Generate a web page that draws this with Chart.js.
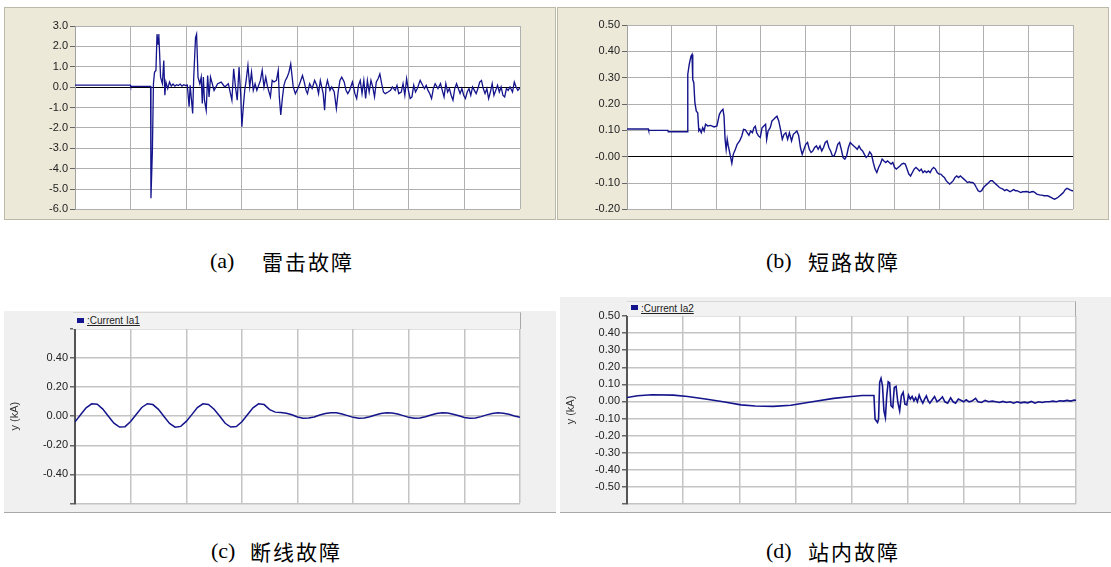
<!DOCTYPE html>
<html>
<head>
<meta charset="utf-8">
<script src="https://cdn.jsdelivr.net/npm/chart.js@4.4.0/dist/chart.umd.min.js"></script>
<style>
body { margin: 0; width: 1111px; height: 567px; background: #fff; position: relative; overflow: hidden; font-family: "Liberation Sans", Arial, sans-serif; }
.panel { position: absolute; box-sizing: border-box; }
.xp { background: #ECE9D8; border: 1px solid #bdb9a8; }
.gr { background: #F0F0F0; border-bottom: 1px solid #a8a8a8; }
canvas { position: absolute; }
.legend { position: absolute; box-sizing: border-box; background: #f2f2f2; border-top: 1px solid #d8d8d8; border-right: 1px solid #a8a8a8; font-size: 10px; color: #222; }
.legend i { position: absolute; left: 4px; width: 7px; height: 5px; background: #14148c; }
.legend u { position: absolute; left: 14px; }
.cap { position: absolute; font-family: "Liberation Serif", serif; font-size: 22px; line-height: 26px; color: #000; }
.zh { position: absolute; font-family: "Noto Sans CJK SC", sans-serif; font-size: 21px; line-height: 26px; letter-spacing: 2px; color: #000; }
</style>
</head>
<body>
<div class="panel xp" style="left:4px;top:7px;width:552px;height:213px"></div>
<div class="panel xp" style="left:557px;top:7px;width:552px;height:213px"></div>
<div class="panel gr" style="left:4px;top:311px;width:552px;height:202px"></div>
<div class="panel gr" style="left:560px;top:297px;width:551px;height:216px"></div>

<canvas id="chartA" width="550" height="210" style="left:5px;top:8px"></canvas>
<canvas id="chartB" width="550" height="210" style="left:558px;top:8px"></canvas>
<canvas id="chartC" width="552" height="200" style="left:4px;top:312px"></canvas>
<canvas id="chartD" width="551" height="216" style="left:560px;top:297px"></canvas>

<div class="legend" style="left:73px;top:312px;width:448px;height:17px"><i style="top:5px"></i><u style="top:2px">:Current Ia1</u></div>
<div class="legend" style="left:627px;top:301px;width:449px;height:15px"><i style="top:3px"></i><u style="top:1px">:Current Ia2</u></div>

<span class="cap" style="left:210px;top:248px">(a)</span><span class="zh" style="left:262px;top:248px">雷击故障</span>
<span class="cap" style="left:766px;top:248px">(b)</span><span class="zh" style="left:808px;top:248px">短路故障</span>
<span class="cap" style="left:211px;top:538px">(c)</span><span class="zh" style="left:250px;top:538px">断线故障</span>
<span class="cap" style="left:766px;top:538px">(d)</span><span class="zh" style="left:808px;top:538px">站内故障</span>

<script>
// (a) lightning fault: sample position across the window and current value
const timeA = [0, 155, 156, 212, 213, 217, 220, 223, 227, 230,
    233, 235, 237, 240, 245, 249, 252, 255, 260, 265,
    270, 275, 280, 285, 290, 295, 300, 305, 310, 315,
    320, 323, 330, 333, 338, 341, 345, 350, 354, 357,
    360, 363, 368, 372, 376, 380, 390, 400, 410, 420,
    430, 440, 445, 450, 455, 460, 465, 468, 472, 476,
    480, 485, 490, 495, 500, 505, 510, 520, 525, 530,
    535, 540, 548, 553, 558, 565, 570, 573, 577, 582,
    586, 590, 595, 600, 605, 608, 612, 618, 625, 630,
    638, 643, 648, 652, 658, 665, 672, 678, 683, 688,
    692, 696, 700, 704, 708, 715, 720, 727, 733, 738,
    743, 748, 755, 760, 765, 770, 778, 785, 790, 795,
    800, 805, 810, 815, 820, 825, 830, 835, 840, 845,
    850, 855, 860, 865, 870, 878, 885, 890, 898, 903,
    908, 915, 920, 925, 930, 935, 940, 945, 950, 955,
    960, 968, 975, 980, 985, 990, 995, 1000, 1005, 1010,
    1018, 1025, 1030, 1035, 1040, 1045, 1050, 1055, 1060, 1065,
    1070, 1075, 1080, 1085, 1090, 1095, 1100, 1105, 1110, 1115,
    1120, 1125, 1130, 1135, 1140, 1145, 1150, 1155, 1160, 1165,
    1170, 1175, 1180, 1185, 1190, 1195, 1200, 1205, 1210, 1215,
    1220, 1227, 1232, 1237, 1242, 1248];
const currentA = [0.10, 0.10, 0.04, 0.04, -5.45, -3.15, 0.17, 0.73, 0.82, 2.60,
    2.11, 2.60, 1.79, 0.49, 0.17, 1.30, -0.40, 0.25, -0.07, 0.25,
    0.05, 0.15, 0.05, 0.12, 0.08, 0.15, 0.05, 0.12, 0.08, 0.10,
    -0.96, 0.09, -1.29, 0.49, 2.43, 2.60, 0.49, 0.17, 0.49, -0.80,
    0.49, -0.64, -1.13, 0.57, -0.48, 0.49, -0.16, 0.17, 0.25, 0.01,
    0.17, -0.64, 0.90, 0.01, -0.64, 0.98, -0.48, -1.94, -0.96, -0.16,
    0.33, 1.06, 0.01, 0.73, -0.16, 0.17, -0.16, 0.33, 0.82, 0.01,
    0.49, 0.01, -0.48, 0.33, 0.25, 0.33, 0.82, -0.48, -1.37, -0.48,
    0.09, 0.33, 0.49, 0.73, 1.14, 0.65, 0.01, -0.32, -0.07, 0.17,
    0.57, 0.25, -0.16, -0.32, 0.17, -0.07, 0.33, 0.09, -0.32, 0.33,
    0.01, -0.32, -1.13, 0.01, 0.33, -0.16, 0.01, -0.24, -1.05, -0.24,
    0.33, 0.49, 0.25, -0.16, -0.32, -0.16, 0.25, -0.32, -0.56, 0.09,
    0.33, -0.32, 0.33, -0.56, 0.33, -0.24, 0.33, 0.01, -0.48, 0.25,
    0.41, 0.65, 0.17, -0.24, -0.32, -0.24, -0.16, 0.01, -0.16, 0.09,
    -0.32, -0.24, 0.17, -0.40, 0.41, -0.16, -0.56, -0.48, 0.09, -0.24,
    -0.07, 0.33, 0.09, -0.07, 0.09, -0.16, -0.32, -0.56, -0.07, 0.17,
    -0.07, 0.17, -0.16, -0.48, 0.17, -0.24, -0.07, -0.40, -0.64, -0.07,
    0.17, -0.07, -0.32, -0.07, -0.40, -0.56, -0.24, -0.07, -0.40, 0.01,
    -0.16, -0.32, -0.07, 0.25, 0.33, -0.07, -0.32, -0.07, -0.56, -0.24,
    0.17, -0.40, -0.16, 0.09, -0.24, 0.01, -0.40, -0.48, -0.07, -0.16,
    0.01, -0.24, 0.25, 0.01, -0.16, -0.03];

// (b) short-circuit fault
const timeB = [0, 60, 61, 115, 116, 170, 171, 175, 180, 183,
    185, 188, 191, 195, 199, 202, 205, 209, 213, 217,
    221, 227, 235, 245, 253, 260, 265, 270, 273, 276,
    279, 282, 285, 290, 295, 299, 305, 310, 317, 323,
    328, 333, 338, 343, 348, 353, 357, 361, 365, 370,
    375, 380, 385, 390, 393, 397, 403, 408, 413, 417,
    422, 427, 432, 437, 442, 447, 452, 457, 463, 468,
    473, 478, 483, 488, 493, 498, 503, 508, 513, 518,
    523, 528, 533, 538, 543, 548, 553, 558, 563, 568,
    573, 578, 583, 588, 593, 598, 603, 608, 613, 618,
    623, 628, 633, 638, 643, 648, 653, 658, 663, 668,
    673, 678, 683, 688, 693, 698, 703, 708, 713, 718,
    723, 728, 733, 738, 743, 748, 753, 758, 763, 768,
    773, 778, 783, 788, 793, 798, 803, 808, 813, 818,
    823, 828, 833, 838, 843, 848, 853, 858, 863, 868,
    873, 878, 883, 888, 893, 898, 903, 908, 913, 918,
    923, 928, 933, 938, 943, 948, 953, 958, 963, 968,
    973, 978, 983, 988, 993, 998, 1003, 1008, 1013, 1018,
    1023, 1028, 1033, 1038, 1043, 1048, 1053, 1058, 1063, 1068,
    1073, 1078, 1083, 1088, 1093, 1098, 1103, 1108, 1113, 1118,
    1123, 1128, 1133, 1138, 1143, 1148, 1153, 1158, 1163, 1168,
    1173, 1178, 1183, 1188, 1193, 1198, 1203, 1208, 1213, 1218,
    1223, 1228, 1233, 1238, 1243, 1248, 1253, 1255];
const currentB = [0.105, 0.105, 0.100, 0.100, 0.095, 0.095, 0.312, 0.350, 0.381, 0.388,
    0.293, 0.281, 0.205, 0.173, 0.167, 0.098, 0.104, 0.091, 0.110, 0.098,
    0.123, 0.117, 0.119, 0.113, 0.117, 0.161, 0.173, 0.180, 0.154, 0.066,
    0.028, 0.066, 0.041, 0.009, -0.025, 0.009, 0.028, 0.047, 0.060, 0.079,
    0.104, 0.102, 0.091, 0.081, 0.098, 0.091, 0.110, 0.116, 0.091, 0.079,
    0.073, 0.110, 0.117, 0.123, 0.066, 0.098, 0.110, 0.136, 0.142, 0.148,
    0.154, 0.136, 0.104, 0.066, 0.085, 0.091, 0.066, 0.091, 0.060, 0.085,
    0.091, 0.098, 0.081, 0.035, 0.009, 0.028, 0.047, 0.054, 0.028, 0.016,
    0.022, 0.035, 0.041, 0.028, 0.041, 0.022, 0.035, 0.054, 0.060, 0.035,
    0.022, 0.003, 0.003, 0.022, 0.047, 0.054, 0.028, -0.003, -0.009, 0.003,
    0.035, 0.054, 0.047, 0.041, 0.035, 0.028, 0.041, 0.028, 0.022, 0.009,
    -0.003, 0.003, 0.018, 0.009, -0.022, -0.047, -0.060, -0.041, -0.028, -0.009,
    -0.016, -0.022, -0.016, -0.022, -0.028, -0.022, -0.041, -0.047, -0.041, -0.035,
    -0.028, -0.025, -0.028, -0.047, -0.066, -0.073, -0.060, -0.047, -0.041, -0.047,
    -0.054, -0.047, -0.060, -0.054, -0.060, -0.054, -0.060, -0.047, -0.041, -0.047,
    -0.060, -0.066, -0.066, -0.073, -0.079, -0.091, -0.098, -0.104, -0.098, -0.091,
    -0.079, -0.073, -0.079, -0.073, -0.079, -0.085, -0.091, -0.098, -0.095, -0.098,
    -0.098, -0.104, -0.117, -0.129, -0.133, -0.129, -0.117, -0.110, -0.104, -0.098,
    -0.091, -0.091, -0.098, -0.104, -0.110, -0.117, -0.120, -0.123, -0.129, -0.125,
    -0.129, -0.133, -0.129, -0.125, -0.129, -0.129, -0.133, -0.136, -0.133, -0.133,
    -0.132, -0.133, -0.136, -0.133, -0.132, -0.136, -0.142, -0.144, -0.146, -0.146,
    -0.148, -0.148, -0.148, -0.151, -0.154, -0.158, -0.161, -0.158, -0.154, -0.148,
    -0.142, -0.136, -0.125, -0.120, -0.123, -0.127, -0.129, -0.129];

// (c) broken-line fault, time in ms, current Ia1 in kA
const timeC = [0, 2, 4, 6, 8, 10, 12, 14, 16, 18,
    20, 22, 24, 26, 28, 30, 32, 34, 36, 38,
    40, 42, 44, 46, 48, 50, 52, 54, 56, 58,
    60, 62, 64, 66, 68, 70, 72, 74, 76, 78,
    80, 82, 84, 86, 88, 90, 92, 94, 96, 98,
    100, 102, 104, 106, 108, 110, 112, 114, 116, 118,
    120, 122, 124, 126, 128, 130, 132, 134, 136, 138,
    140, 142, 144, 146, 148, 150, 152, 154, 156, 158,
    160];
const currentC = [-0.039, 0.010, 0.058, 0.085, 0.082, 0.049, 0.000, -0.048, -0.075, -0.072,
    -0.037, 0.012, 0.060, 0.086, 0.080, 0.047, -0.002, -0.050, -0.076, -0.070,
    -0.036, 0.011, 0.059, 0.085, 0.081, 0.048, 0.001, -0.049, -0.075, -0.071,
    -0.038, 0.010, 0.058, 0.085, 0.080, 0.045, 0.028, 0.025, 0.020, 0.010,
    -0.005, -0.014, -0.012, -0.005, 0.008, 0.018, 0.023, 0.023, 0.015, 0.004,
    -0.008, -0.014, -0.012, -0.004, 0.008, 0.018, 0.023, 0.022, 0.015, 0.004,
    -0.008, -0.014, -0.012, -0.004, 0.008, 0.018, 0.023, 0.022, 0.014, 0.003,
    -0.009, -0.014, -0.012, -0.003, 0.009, 0.019, 0.023, 0.021, 0.013, 0.002,
    -0.008];

// (d) in-station fault, time in ms, current Ia2 in kA
const timeD = [0.00, 0.95, 2.22, 4.13, 5.40, 6.98, 8.57, 10.16, 11.43, 13.02,
    14.60, 16.51, 18.41, 20.00, 20.95, 22.00, 22.10, 22.32, 22.41, 22.51,
    22.63, 22.76, 22.89, 23.02, 23.14, 23.27, 23.40, 23.52, 23.68, 23.81,
    23.97, 24.13, 24.29, 24.44, 24.60, 24.76, 24.92, 25.08, 25.24, 25.40,
    25.56, 25.71, 25.87, 26.03, 26.19, 26.35, 26.51, 26.67, 26.83, 26.98,
    27.24, 27.40, 27.62, 27.87, 28.10, 28.32, 28.57, 28.83, 29.05, 29.27,
    29.52, 29.78, 30.00, 30.22, 30.48, 30.73, 31.05, 31.27, 31.59, 31.90,
    32.22, 32.54, 32.86, 33.17, 33.49, 33.81, 34.13, 34.44, 34.76, 35.08,
    35.40, 35.71, 36.03, 36.35, 36.67, 36.98, 37.30, 37.62, 37.94, 38.25,
    38.57, 38.89, 39.21, 39.52, 39.84, 40.00];
const currentD = [0.023, 0.033, 0.039, 0.037, 0.029, 0.014, -0.002, -0.020, -0.027, -0.029,
    -0.022, -0.002, 0.018, 0.029, 0.035, 0.035, -0.104, -0.123, -0.104, 0.112,
    0.135, 0.092, -0.055, -0.094, 0.033, 0.115, 0.108, -0.025, -0.035, 0.082,
    0.088, -0.006, -0.055, 0.033, 0.053, -0.016, -0.020, 0.037, 0.014, 0.029,
    0.004, 0.023, -0.002, 0.037, 0.010, -0.010, 0.014, 0.033, 0.004, -0.010,
    0.014, 0.029, -0.002, 0.010, 0.027, -0.002, -0.010, 0.021, -0.002, -0.010,
    0.014, 0.006, -0.002, 0.010, -0.002, 0.002, 0.018, -0.002, -0.006, 0.006,
    -0.002, 0.002, -0.002, -0.006, 0.000, -0.006, -0.002, -0.010, -0.002, -0.008,
    -0.004, -0.008, 0.000, -0.010, -0.002, -0.006, -0.002, -0.002, 0.002, -0.002,
    0.004, 0.002, 0.006, 0.002, 0.008, 0.006];

const lineColor = '#14148c';
const tickFont = { family: '"Liberation Sans", Arial, sans-serif', size: 11 };

// white plot area on top of the panel background
const plotBg = {
    id: 'plotBg',
    beforeDraw(chart) {
        const a = chart.chartArea;
        const c = chart.ctx;
        c.save();
        c.fillStyle = '#fff';
        c.fillRect(a.left, a.top, a.right - a.left, a.bottom - a.top);
        c.restore();
    }
};

function makeChart(id, times, values, o) {
    return new Chart(document.getElementById(id), {
        type: 'line',
        data: {
            datasets: [{
                data: times.map((t, i) => ({ x: t, y: values[i] })),
                borderColor: lineColor,
                borderWidth: o.lw,
                pointRadius: 0,
                tension: 0
            }]
        },
        options: {
            responsive: false,
            animation: false,
            events: [],
            layout: { padding: o.pad },
            plugins: { legend: { display: false }, tooltip: { enabled: false } },
            scales: {
                x: {
                    type: 'linear', min: 0, max: o.xMax,
                    afterFit: s => { s.height = 0; },
                    ticks: { display: false, stepSize: o.xStep },
                    grid: { color: o.gridColor, lineWidth: o.gw, drawTicks: false },
                    border: { display: false }
                },
                y: {
                    min: o.yMin, max: o.yMax,
                    afterFit: s => { s.width = o.yw; },
                    ticks: { stepSize: o.yStep, maxTicksLimit: 20, padding: 2, color: '#222', font: tickFont, callback: o.fmt },
                    grid: {
                        color: ctx => (o.blackZero && ctx.tick && Math.abs(ctx.tick.value) < 1e-9) ? '#000' : o.gridColor,
                        lineWidth: o.gw, tickLength: 5, tickColor: '#666'
                    },
                    border: { color: o.axisColor, width: o.aw },
                    title: o.title
                        ? { display: true, text: 'y (kA)', color: '#333', font: tickFont, padding: { top: 4, bottom: 0 } }
                        : { display: false }
                }
            }
        },
        plugins: [plotBg]
    });
}

makeChart('chartA', timeA, currentA, {
    lw: 1.3, pad: { top: 18, bottom: 8, right: 35, left: 0 }, yw: 70,
    xMax: 1248, xStep: 156, yMin: -6, yMax: 3, yStep: 1,
    fmt: v => v.toFixed(1), gridColor: '#b0b0b0', gw: 1, blackZero: true,
    axisColor: '#a0a0a0', aw: 1, title: false
});

makeChart('chartB', timeB, currentB, {
    lw: 1.4, pad: { top: 17, bottom: 8, right: 35, left: 0 }, yw: 69,
    xMax: 1255, xStep: 125.5, yMin: -0.2, yMax: 0.5, yStep: 0.1,
    fmt: v => v.toFixed(2), gridColor: '#b0b0b0', gw: 1, blackZero: true,
    axisColor: '#a0a0a0', aw: 1, title: false
});

makeChart('chartC', timeC, currentC, {
    lw: 1.5, pad: { top: 17, bottom: 8, right: 36, left: 0 }, yw: 71,
    xMax: 160, xStep: 20, yMin: -0.6, yMax: 0.6, yStep: 0.2,
    fmt: v => Math.abs(v) > 0.55 ? '' : v.toFixed(2), gridColor: '#c4c4c4', gw: 1.5, blackZero: false,
    axisColor: '#555', aw: 2, title: true
});

makeChart('chartD', timeD, currentD, {
    lw: 1.6, pad: { top: 19, bottom: 9, right: 35, left: 0 }, yw: 67,
    xMax: 40, xStep: 5, yMin: -0.6, yMax: 0.5, yStep: 0.1,
    fmt: v => v < -0.55 ? '' : v.toFixed(2), gridColor: '#c4c4c4', gw: 1.5, blackZero: false,
    axisColor: '#555', aw: 2, title: true
});
</script>
</body>
</html>
